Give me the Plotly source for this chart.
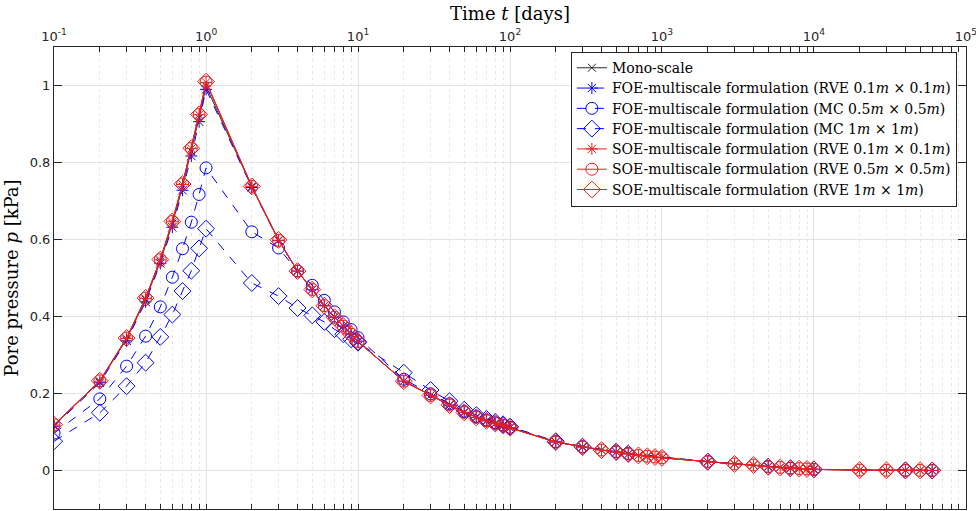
import plotly.graph_objects as go

# ---------------- data ----------------
t_all = [0.1, 0.2, 0.3, 0.4, 0.5, 0.6, 0.7, 0.8, 0.9, 1.0,
         2, 3, 4, 5, 6, 7, 8, 9, 10,
         20, 30, 40, 50, 60, 70, 80, 90, 100,
         200, 300, 400, 500, 600, 700, 800, 900, 1000,
         2000, 3000, 4000, 5000, 6000, 7000, 8000, 9000, 10000,
         20000, 30000, 40000, 50000, 60000]

mono = [0.118, 0.231, 0.341, 0.444, 0.543, 0.641, 0.737, 0.829, 0.916, 0.998,
        0.737, 0.598, 0.518, 0.470, 0.428, 0.398, 0.375, 0.354, 0.335,
        0.232, 0.195, 0.170, 0.151, 0.138, 0.129, 0.122, 0.117, 0.111,
        0.074, 0.061, 0.053, 0.048, 0.043, 0.039, 0.037, 0.035, 0.033,
        0.023, 0.017, 0.014, 0.010, 0.008, 0.006, 0.005, 0.004, 0.003,
        0.001, 0.0005, 0.0003, 0.0002, 0.0001]

soe_01 = [0.118, 0.232, 0.343, 0.447, 0.547, 0.646, 0.743, 0.836, 0.924, 1.008,
          0.738, 0.598, 0.518, 0.470, 0.428, 0.398, 0.375, 0.354, 0.335,
          0.232, 0.195, 0.170, 0.151, 0.138, 0.129, 0.122, 0.117, 0.111,
          0.074, 0.061, 0.053, 0.048, 0.043, 0.039, 0.037, 0.035, 0.033,
          0.023, 0.017, 0.014, 0.010, 0.008, 0.006, 0.005, 0.004, 0.003,
          0.001, 0.0005, 0.0003, 0.0002, 0.0001]
soe_05 = [0.119, 0.233, 0.344, 0.448, 0.548, 0.647, 0.744, 0.837, 0.925, 1.009,
          0.738, 0.598, 0.518, 0.470, 0.428, 0.398, 0.375, 0.354, 0.335,
          0.232, 0.195, 0.170, 0.151, 0.138, 0.129, 0.122, 0.117, 0.111,
          0.074, 0.061, 0.053, 0.048, 0.043, 0.039, 0.037, 0.035, 0.033,
          0.023, 0.017, 0.014, 0.010, 0.008, 0.006, 0.005, 0.004, 0.003,
          0.001, 0.0005, 0.0003, 0.0002, 0.0001]
soe_1 = [0.119, 0.233, 0.344, 0.448, 0.548, 0.647, 0.744, 0.837, 0.925, 1.010,
         0.738, 0.599, 0.518, 0.470, 0.428, 0.398, 0.375, 0.354, 0.335,
         0.232, 0.195, 0.170, 0.151, 0.138, 0.129, 0.122, 0.117, 0.111,
         0.074, 0.061, 0.053, 0.048, 0.043, 0.039, 0.037, 0.035, 0.033,
         0.023, 0.017, 0.014, 0.010, 0.008, 0.006, 0.005, 0.004, 0.003,
         0.001, 0.0005, 0.0003, 0.0002, 0.0001]

t_foe = [0.1, 0.2, 0.3, 0.4, 0.5, 0.6, 0.7, 0.8, 0.9, 1.0,
         2, 3, 4, 5, 6, 7, 8, 9, 10,
         20, 30, 40, 50, 60, 70, 80, 90, 100,
         200, 300, 500, 600, 2000, 5000, 7000, 10000, 40000, 60000]

foe_rve01 = [0.115, 0.228, 0.337, 0.438, 0.538, 0.632, 0.728, 0.817, 0.906, 0.990,
             0.735, 0.597, 0.518, 0.470, 0.428, 0.398, 0.375, 0.354, 0.335,
             0.232, 0.195, 0.170, 0.151, 0.138, 0.129, 0.122, 0.117, 0.111,
             0.074, 0.061, 0.048, 0.043, 0.023, 0.010, 0.006, 0.003, 0.0003, 0.0001]
foe_mc05 = [0.097, 0.186, 0.271, 0.349, 0.425, 0.502, 0.576, 0.645, 0.717, 0.786,
            0.620, 0.578, 0.518, 0.481, 0.442, 0.412, 0.386, 0.366, 0.345,
            0.237, 0.199, 0.173, 0.153, 0.140, 0.131, 0.124, 0.118, 0.112,
            0.075, 0.062, 0.049, 0.044, 0.023, 0.010, 0.006, 0.003, 0.0003, 0.0001]
foe_mc1 = [0.076, 0.150, 0.219, 0.280, 0.347, 0.405, 0.466, 0.519, 0.577, 0.628,
           0.487, 0.453, 0.422, 0.403, 0.386, 0.367, 0.354, 0.341, 0.332,
           0.254, 0.209, 0.180, 0.158, 0.144, 0.134, 0.126, 0.120, 0.114,
           0.076, 0.062, 0.049, 0.044, 0.023, 0.010, 0.006, 0.003, 0.0003, 0.0001]

names = ["Mono-scale",
         "FOE-multiscale formulation (RVE 0.1<i>m</i> × 0.1<i>m</i>)",
         "FOE-multiscale formulation (MC 0.5<i>m</i> × 0.5<i>m</i>)",
         "FOE-multiscale formulation (MC 1<i>m</i> × 1<i>m</i>)",
         "SOE-multiscale formulation (RVE 0.1<i>m</i> × 0.1<i>m</i>)",
         "SOE-multiscale formulation (RVE 0.5<i>m</i> × 0.5<i>m</i>)",
         "SOE-multiscale formulation (RVE 1<i>m</i> × 1<i>m</i>)"]

x_ticks = [0.1, 1, 10, 100, 1000, 10000, 100000]
x_ticktext = ["10<sup>-1</sup>", "10<sup>0</sup>", "10<sup>1</sup>", "10<sup>2</sup>",
              "10<sup>3</sup>", "10<sup>4</sup>", "10<sup>5</sup>"]
y_ticks = [0, 0.2, 0.4, 0.6, 0.8, 1]
y_ticktext = ["0", "0.2", "0.4", "0.6", "0.8", "1"]

# ---------------- figure ----------------
BLUE = "rgb(0,0,255)"
RED = "rgb(235,30,30)"
BLACK = "rgb(40,40,40)"


def lg(name):
    return '<span style="font-size:14px">' + name + '</span>'


fig = go.Figure()

fig.add_trace(go.Scatter(x=t_all, y=mono, name=lg(names[0]), mode="lines+markers",
                         line=dict(color=BLACK, width=1),
                         marker=dict(symbol="x-thin-open", size=8,
                                     line=dict(color=BLACK, width=1))))

foe_specs = [(foe_rve01, "asterisk-open", 10),
             (foe_mc05, "circle-open", 12),
             (foe_mc1, "diamond-open", 13)]
for i, (vals, sym, sz) in enumerate(foe_specs):
    fig.add_trace(go.Scatter(x=t_foe, y=vals, name=lg(names[1 + i]), mode="lines+markers",
                             line=dict(color=BLUE, width=1, dash="dash"),
                             marker=dict(symbol=sym, size=sz,
                                         line=dict(color=BLUE, width=1))))

soe_specs = [(soe_01, "asterisk-open", 10),
             (soe_05, "circle-open", 12),
             (soe_1, "diamond-open", 13)]
for i, (vals, sym, sz) in enumerate(soe_specs):
    fig.add_trace(go.Scatter(x=t_all, y=vals, name=lg(names[4 + i]), mode="lines+markers",
                             line=dict(color=RED, width=1),
                             marker=dict(symbol=sym, size=sz,
                                         line=dict(color=RED, width=1))))

SERIF = "DejaVu Serif"
TICKFONT = dict(family="DejaVu Sans", size=13, color="#262626")

fig.update_layout(
    width=976, height=511,
    margin=dict(l=54, r=10, t=47, b=2),
    paper_bgcolor="white", plot_bgcolor="white",
    showlegend=True,
    legend=dict(x=0.99, y=0.99, xanchor="right", yanchor="top",
                bgcolor="white", bordercolor="#262626", borderwidth=1,
                font=dict(family=SERIF, size=13.3, color="black"),
                itemwidth=30, tracegroupgap=0),
    xaxis=dict(type="log", side="top", range=[-1.0005, 5.0005],
               tickvals=x_ticks, ticktext=x_ticktext,
               tickfont=TICKFONT, ticklabeloverflow="allow", automargin=False,
               ticks="inside", ticklen=5, tickcolor="#262626",
               showline=True, linecolor="#262626", linewidth=1, mirror="allticks",
               showgrid=True, gridcolor="#e3e3e3", gridwidth=1,
               zeroline=False,
               minor=dict(dtick="D1", ticks="inside", ticklen=5, tickcolor="#262626",
                          showgrid=True, gridcolor="#e8e8e8", griddash="dot"),
               title=dict(text="Time <i>t</i> [days]",
                          font=dict(family=SERIF, size=18, color="black"),
                          standoff=2)),
    yaxis=dict(range=[-0.1, 1.1], tickvals=y_ticks, ticktext=y_ticktext,
               tickfont=TICKFONT,
               ticks="inside", ticklen=8, tickcolor="#262626",
               showline=True, linecolor="#262626", linewidth=1, mirror="allticks",
               showgrid=True, gridcolor="#e3e3e3", gridwidth=1,
               zeroline=False,
               title=dict(text="Pore pressure <i>p</i> [kPa]",
                          font=dict(family=SERIF, size=18, color="black"),
                          standoff=6)),
)

fig.write_html("out.html")
